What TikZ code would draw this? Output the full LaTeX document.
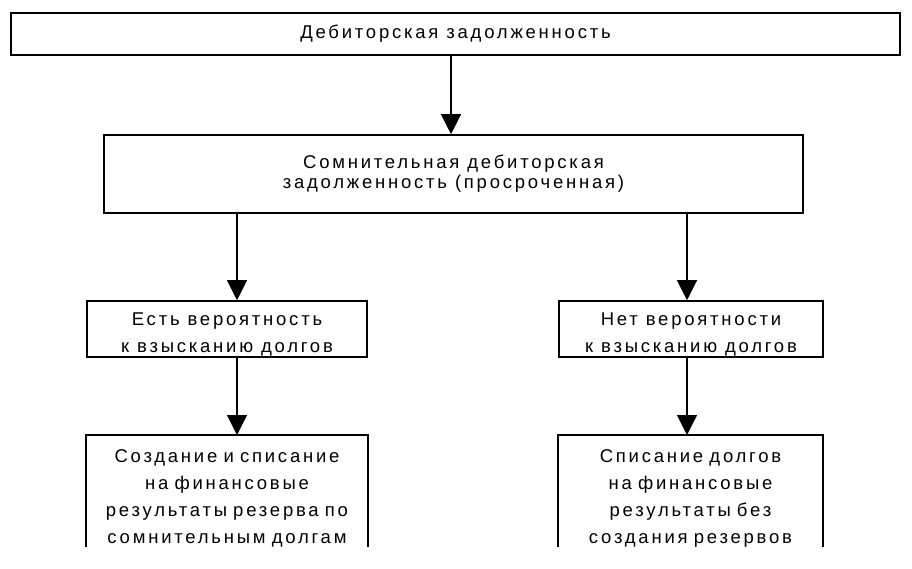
\documentclass[tikz,border=0pt]{standalone}
\usepackage{fontspec}
\setmainfont[LetterSpace=15]{Liberation Sans}
\usetikzlibrary{arrows.meta}
\newcommand{\topgap}{\rule{0pt}{24pt}}

\begin{document}
\begin{tikzpicture}[x=1pt,y=-1pt,>={Triangle[width=20pt,length=20pt]}]
        \tikzstyle{block}=[draw=black,line width=1.6pt,align=center,inner sep=0pt,font=\fontsize{18.5}{27}\selectfont]
        \tikzstyle{openblock}=[block,draw=none,anchor=north,inner xsep=4pt,inner ysep=14pt]
        \tikzstyle{frame}=[draw,line width=1.6pt]
        \tikzstyle{edge}=[draw,->,line width=1.2pt]
        \useasboundingbox (0,0) rectangle (912,568);
       \begin{scope}
         \node [block,minimum width=889pt,minimum height=42pt] (debt) at (455.5,34) {Дебиторская задолженность};
         \node [block,minimum width=699pt,minimum height=78pt,font=\fontsize{18.5}{20}\selectfont] (doubt) at (453.5,174) {Сомнительная дебиторская\\задолженность (просроченная)};
         \node [block,minimum width=280pt,minimum height=56pt] (yes) at (227,329) {\topgap Есть вероятность\\к взысканию долгов};
         \node [block,minimum width=264pt,minimum height=56pt] (no) at (691,329) {\topgap Нет вероятности\\к взысканию долгов};
         \node [openblock,text width=272pt] (reserve) at (227,435) {Создание и списание\\на финансовые\\результаты резерва по\\сомнительным долгам};
         \node [openblock,text width=255pt] (writeoff) at (690.5,435) {Списание долгов\\на финансовые\\результаты без\\создания резервов};
         \path[frame] ([yshift=-112pt]reserve.north west) -- (reserve.north west) -- (reserve.north east) -- ([yshift=-112pt]reserve.north east);
         \path[frame] ([yshift=-112pt]writeoff.north west) -- (writeoff.north west) -- (writeoff.north east) -- ([yshift=-112pt]writeoff.north east);
         \path[edge] ([xshift=-2.5pt]doubt.north |- debt.south) -- ([xshift=-2.5pt]doubt.north);
         \path[edge] ([xshift=10pt]yes.north |- doubt.south) -- ([xshift=10pt]yes.north);
         \path[edge] ([xshift=-4pt]no.north |- doubt.south) -- ([xshift=-4pt]no.north);
         \path[edge] ([xshift=10pt]yes.south) -- ([xshift=10pt]reserve.north);
         \path[edge] ([xshift=-4pt]no.south) -- ([xshift=-3.5pt]writeoff.north);
        \end{scope}
      \end{tikzpicture}
\end{document}
